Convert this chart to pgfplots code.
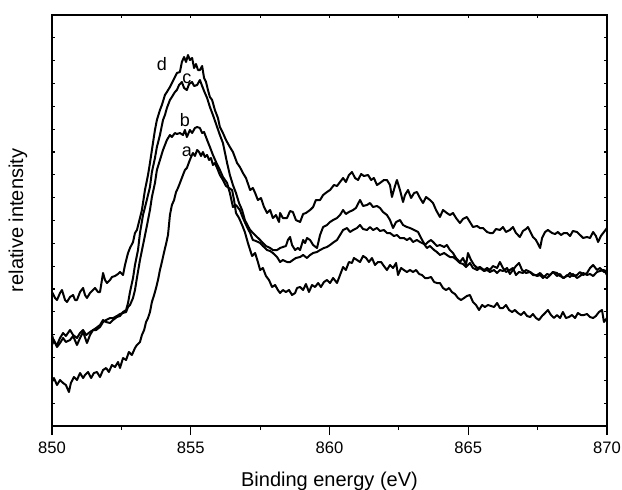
\documentclass[border=0pt]{standalone}
\usepackage{fontspec}
\setmainfont{Liberation Sans}
\usepackage{pgfplots}
\pgfplotsset{compat=1.18}
\begin{document}
\begin{tikzpicture}
\useasboundingbox (-26pt,-31.5pt) rectangle (285pt,213pt);
\begin{axis}[
  name=ax,
  scale only axis, width=277.5pt, height=205.5pt,
  xmin=850, xmax=870, ymin=0, ymax=411,
  xtick={850,852.5,...,870}, xtick pos=right, xticklabels={},
  ytick={0,22.833,45.667,68.5,91.333,114.167,137,159.833,182.667,205.5,228.333,251.167,274,296.833,319.667,342.5,365.333,388.167,411},
  yticklabels={}, ytick pos=both,
  tick align=inside, major tick length=1.5pt,
  axis line style={line width=0.6pt}, tick style={line width=0.6pt, black},
  clip=false,
]
\addplot[black, line width=1pt, line join=round] table {
850.00 134
850.11 128
850.18 126
850.29 133
850.36 136
850.47 126
850.54 124
850.65 129
850.76 131
850.83 126
850.90 126
851.01 134
851.12 138
851.19 131
851.26 128
851.37 133
851.48 136
851.55 138
851.66 134
851.73 134
851.84 153
851.91 146
851.98 143
852.09 146
852.16 149
852.27 150
852.38 152
852.45 154
852.56 151
852.63 161
852.74 173
852.81 178
852.92 184
852.99 193
853.06 196
853.17 208
853.24 216
853.35 236
853.46 251
853.53 263
853.60 276
853.71 296
853.78 306
853.89 316
853.96 321
854.07 331
854.14 334
854.25 339
854.32 343
854.43 349
854.50 353
854.61 354
854.68 364
854.76 369
854.83 364
854.90 371
854.97 366
855.05 368
855.12 358
855.19 362
855.26 356
855.33 356
855.41 360
855.48 348
855.55 344
855.62 336
855.69 329
855.77 326
855.87 316
855.98 308
856.05 299
856.16 293
856.27 286
856.41 279
856.52 274
856.67 263
856.77 259
856.88 253
856.99 248
857.14 236
857.24 238
857.32 233
857.42 226
857.53 228
857.64 219
857.75 213
857.86 216
857.96 208
858.07 211
858.18 204
858.22 213
858.32 208
858.47 208
858.58 215
858.68 214
858.79 206
858.94 204
859.05 212
859.15 213
859.30 216
859.41 219
859.51 226
859.66 226
859.77 231
859.91 234
860.02 236
860.16 241
860.27 240
860.38 244
860.49 248
860.59 244
860.70 251
860.81 254
860.92 248
861.03 246
861.14 252
861.24 250
861.39 251
861.50 246
861.60 248
861.71 241
861.82 243
861.96 246
862.07 246
862.18 241
862.25 229
862.36 240
862.43 246
862.54 236
862.65 224
862.72 231
862.83 236
862.94 228
863.05 233
863.15 234
863.26 228
863.37 223
863.48 229
863.62 226
863.73 223
863.84 216
863.98 209
864.09 216
864.23 213
864.34 211
864.45 213
864.56 208
864.70 203
864.81 207
864.95 209
865.06 204
865.17 199
865.32 200
865.42 198
865.53 198
865.68 194
865.78 193
865.89 193
866.00 197
866.14 196
866.25 199
866.36 194
866.50 196
866.61 199
866.72 193
866.86 189
866.97 195
867.08 197
867.15 199
867.26 193
867.33 189
867.44 186
867.59 178
867.66 188
867.77 194
867.87 196
868.02 193
868.13 192
868.23 194
868.34 191
868.45 193
868.56 193
868.67 190
868.77 195
868.92 194
869.03 191
869.14 188
869.28 189
869.39 188
869.50 194
869.60 190
869.68 184
869.78 190
869.89 194
870.00 198
};
\addplot[black, line width=1pt, line join=round] table {
850.00 91
850.07 84
850.18 81
850.29 88
850.40 93
850.50 90
850.65 96
850.76 91
850.90 88
851.01 93
851.12 96
851.23 91
851.37 94
851.48 96
851.59 98
851.73 101
851.84 106
851.95 104
852.09 103
852.20 106
852.34 109
852.45 110
852.56 114
852.67 116
852.74 123
852.81 134
852.92 148
852.99 161
853.10 176
853.17 193
853.28 211
853.39 223
853.46 231
853.53 239
853.60 254
853.71 268
853.78 279
853.89 291
854.00 306
854.07 311
854.14 318
854.25 326
854.32 329
854.43 334
854.50 336
854.58 341
854.68 344
854.76 338
854.86 336
854.94 342
855.05 344
855.12 340
855.23 341
855.33 346
855.41 340
855.51 333
855.59 328
855.69 319
855.80 311
855.95 299
856.05 291
856.16 283
856.31 263
856.41 251
856.52 241
856.63 233
856.74 223
856.85 216
856.95 206
857.06 200
857.14 196
857.28 192
857.39 189
857.50 186
857.60 183
857.71 180
857.86 178
857.96 176
858.11 176
858.22 178
858.32 179
858.43 180
858.50 186
858.58 189
858.65 181
858.76 176
858.86 178
858.94 176
859.05 186
859.12 183
859.19 188
859.30 186
859.41 181
859.55 178
859.66 191
859.77 199
859.91 201
860.02 204
860.13 206
860.27 208
860.38 211
860.49 216
860.59 212
860.70 214
860.85 216
860.95 218
861.10 226
861.21 220
861.35 221
861.46 223
861.57 219
861.71 220
861.82 218
861.93 214
862.07 211
862.18 206
862.29 198
862.40 204
862.54 206
862.65 201
862.79 199
862.90 198
863.05 196
863.19 194
863.30 188
863.44 181
863.55 184
863.66 186
863.77 183
863.87 180
863.98 181
864.13 179
864.23 181
864.34 176
864.45 173
864.56 168
864.70 164
864.81 168
864.92 161
864.99 173
865.10 166
865.21 161
865.32 158
865.42 159
865.57 156
865.68 158
865.78 156
865.89 160
866.04 158
866.14 164
866.25 158
866.36 154
866.50 156
866.61 158
866.72 151
866.83 154
866.97 153
867.08 156
867.23 154
867.33 152
867.48 150
867.59 151
867.69 148
867.84 152
867.95 151
868.05 154
868.20 150
868.31 152
868.41 148
868.56 150
868.67 153
868.77 150
868.92 151
869.03 154
869.14 151
869.28 153
869.39 158
869.50 161
869.64 156
869.75 158
869.89 154
870.00 156
};
\addplot[black, line width=1pt, line join=round] table {
850.00 81
850.07 86
850.18 79
850.29 83
850.40 88
850.50 84
850.65 86
850.76 90
850.90 81
851.01 88
851.12 94
851.26 83
851.37 91
851.48 96
851.59 96
851.73 99
851.84 104
851.95 106
852.09 108
852.20 108
852.34 110
852.45 112
852.56 113
852.67 114
852.74 119
852.81 121
852.92 128
852.99 136
853.06 148
853.17 166
853.28 181
853.39 196
853.46 206
853.53 216
853.60 229
853.71 243
853.78 256
853.89 266
854.00 276
854.07 281
854.14 286
854.25 291
854.32 289
854.43 293
854.50 292
854.61 293
854.72 291
854.79 296
854.86 289
854.97 296
855.05 293
855.15 298
855.23 299
855.33 298
855.41 293
855.48 294
855.59 286
855.69 279
855.80 271
855.91 264
856.05 256
856.16 249
856.31 243
856.41 233
856.52 219
856.63 221
856.77 216
856.88 208
857.03 199
857.14 193
857.24 186
857.35 185
857.50 183
857.60 180
857.75 176
857.86 175
857.96 173
858.11 169
858.22 164
858.32 166
858.47 164
858.58 164
858.68 166
858.79 168
858.94 169
859.05 171
859.19 168
859.30 171
859.41 173
859.55 174
859.66 176
859.80 178
859.91 179
860.02 181
860.16 184
860.27 186
860.38 191
860.49 196
860.63 198
860.74 194
860.85 196
860.99 198
861.10 201
861.21 197
861.35 196
861.46 199
861.57 196
861.71 198
861.82 195
861.96 196
862.07 193
862.18 193
862.32 190
862.43 191
862.54 188
862.68 188
862.79 186
862.90 188
863.01 184
863.15 186
863.26 184
863.41 182
863.51 178
863.62 180
863.77 176
863.87 174
863.98 171
864.13 173
864.23 171
864.34 169
864.45 169
864.59 166
864.70 163
864.81 162
864.92 159
865.06 163
865.17 158
865.32 156
865.42 158
865.57 155
865.68 156
865.78 154
865.93 156
866.04 153
866.14 156
866.25 155
866.40 158
866.50 152
866.61 156
866.72 160
866.83 163
866.94 156
867.08 153
867.23 154
867.33 151
867.48 151
867.59 153
867.69 150
867.84 148
867.95 151
868.05 154
868.20 153
868.31 150
868.45 148
868.56 151
868.67 149
868.77 152
868.92 148
869.03 150
869.14 153
869.28 151
869.39 152
869.50 150
869.64 154
869.75 155
869.89 156
870.00 151
};
\addplot[black, line width=1pt, line join=round] table {
850.00 44
850.07 48
850.18 41
850.29 46
850.40 43
850.50 41
850.61 34
850.68 43
850.79 49
850.90 46
851.01 53
851.12 48
851.19 51
851.30 54
851.41 48
851.51 53
851.62 54
851.73 49
851.84 56
851.95 58
852.05 54
852.16 61
852.27 59
852.38 64
852.45 58
852.56 68
852.67 66
852.77 74
852.88 71
852.99 78
853.06 81
853.17 84
853.24 91
853.32 96
853.39 104
853.46 108
853.53 114
853.60 124
853.68 131
853.75 138
853.82 146
853.89 156
853.96 164
854.04 174
854.11 182
854.18 191
854.25 211
854.32 221
854.40 226
854.47 234
854.54 238
854.61 243
854.72 251
854.79 256
854.86 258
854.94 264
855.01 269
855.08 273
855.15 270
855.23 276
855.30 274
855.37 270
855.44 274
855.51 269
855.59 271
855.66 266
855.73 268
855.80 261
855.87 263
855.95 258
856.05 251
856.16 246
856.27 240
856.38 238
856.49 236
856.56 226
856.63 213
856.74 208
856.85 201
856.95 194
857.06 183
857.14 176
857.21 170
857.32 173
857.42 164
857.50 156
857.60 158
857.71 150
857.82 146
857.93 139
858.04 141
858.14 136
858.22 133
858.32 136
858.43 134
858.54 136
858.65 131
858.76 133
858.83 138
858.94 139
859.05 136
859.15 142
859.26 134
859.37 141
859.48 139
859.59 143
859.69 139
859.80 144
859.91 146
860.02 143
860.13 148
860.27 143
860.38 151
860.49 159
860.59 156
860.70 164
860.81 163
860.88 168
860.99 166
861.10 164
861.21 170
861.32 168
861.42 164
861.53 168
861.64 161
861.75 164
861.86 164
861.96 160
862.07 156
862.18 161
862.29 158
862.40 163
862.47 151
862.58 158
862.68 156
862.79 154
862.90 156
863.01 154
863.12 156
863.23 152
863.33 151
863.44 148
863.55 148
863.66 149
863.77 144
863.87 143
863.98 143
864.09 138
864.20 136
864.31 138
864.41 134
864.52 132
864.63 128
864.74 126
864.85 128
864.95 130
865.06 131
865.17 124
865.28 121
865.39 116
865.50 121
865.60 119
865.71 121
865.82 120
865.93 119
866.04 123
866.14 118
866.25 118
866.36 121
866.47 116
866.58 114
866.68 116
866.79 113
866.90 111
867.01 114
867.12 110
867.23 109
867.33 112
867.44 108
867.55 106
867.66 110
867.77 113
867.87 116
867.98 111
868.09 108
868.20 111
868.31 108
868.41 114
868.52 108
868.63 109
868.74 111
868.85 108
868.95 113
869.06 111
869.17 111
869.28 112
869.39 109
869.50 108
869.60 110
869.71 114
869.82 116
869.89 104
870.00 108
};
\node[font=\fontsize{9}{10}\selectfont, inner sep=0pt] at (axis cs:853.96,362) {d};
\node[font=\fontsize{9}{10}\selectfont, inner sep=0pt] at (axis cs:854.86,347) {c};
\node[font=\fontsize{9}{10}\selectfont, inner sep=0pt] at (axis cs:854.79,306) {b};
\node[font=\fontsize{9}{10}\selectfont, inner sep=0pt] at (axis cs:854.86,274) {a};
\end{axis}
\begin{axis}[
  scale only axis, width=277.5pt, height=205.5pt,
  xmin=850, xmax=870, ymin=0, ymax=1,
  hide y axis,
  xtick={850,855,...,870}, minor xtick={852.5,857.5,862.5,867.5},
  xtick pos=left, tick align=outside,
  major tick length=4.5pt, minor tick length=2pt,
  axis line style={line width=0.6pt}, tick style={line width=0.6pt, black},
  /pgf/number format/assume math mode=true,
  xticklabel style={font=\fontsize{8.3}{10}\selectfont, anchor=base, yshift=-9pt},
]
\end{axis}
\node[rotate=90, font=\fontsize{10}{12}\selectfont] at ([xshift=-17pt]ax.west) {relative intensity};
\node[anchor=base, font=\fontsize{10}{12}\selectfont] at ([yshift=-30pt]ax.south) {Binding energy (eV)};
\end{tikzpicture}
\end{document}
